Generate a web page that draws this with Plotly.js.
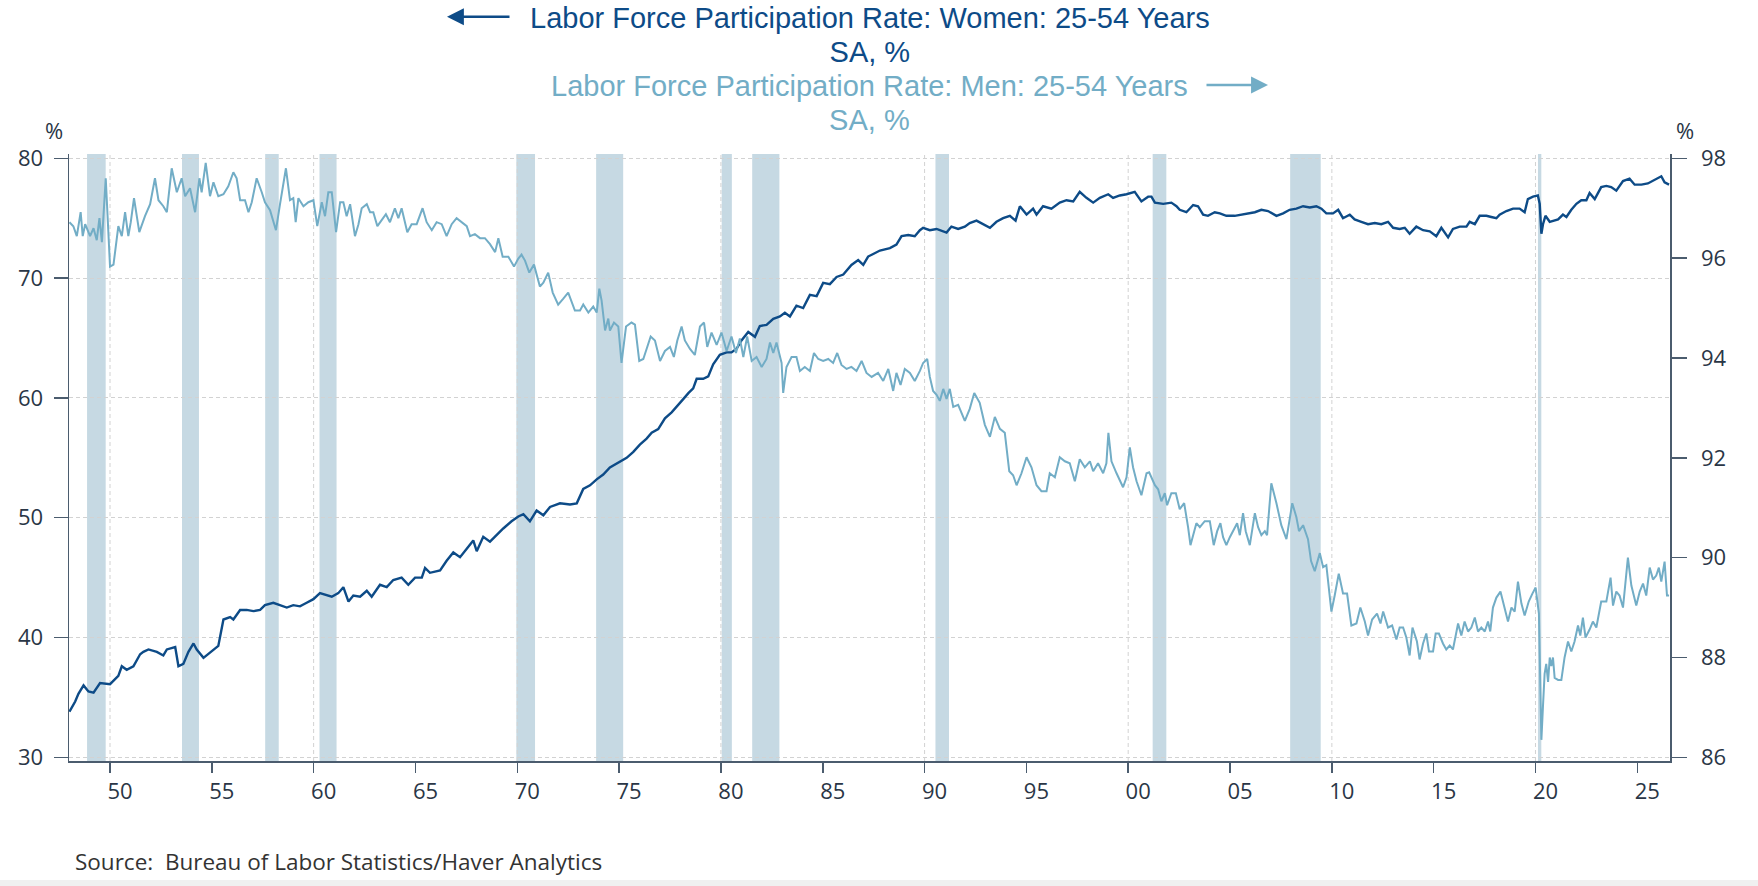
<!DOCTYPE html>
<html>
<head>
<meta charset="utf-8">
<script src="https://cdn.plot.ly/plotly-3.0.1.min.js"></script>
<style>
  html, body { margin: 0; padding: 0; background: #fff; }
  #chart { width: 1758px; height: 886px; }
</style>
</head>
<body>
<div id="chart"></div>
<script>
  "use strict";

  // women 25-54, left axis (decimal year, %)
  const womenT = [1948.01, 1948.29, 1948.45, 1948.70, 1948.94, 1949.19, 1949.51, 1950.00, 1950.41, 1950.58,
    1950.82, 1951.15, 1951.48, 1951.64, 1951.89, 1952.30, 1952.62, 1952.79, 1953.20, 1953.36,
    1953.60, 1953.85, 1954.10, 1954.26, 1954.59, 1955.08, 1955.32, 1955.57, 1955.90, 1956.06,
    1956.39, 1956.71, 1957.04, 1957.37, 1957.61, 1958.02, 1958.35, 1958.68, 1959.00, 1959.33,
    1959.66, 1959.99, 1960.31, 1960.64, 1960.89, 1961.21, 1961.46, 1961.71, 1961.95, 1962.28,
    1962.61, 1962.85, 1963.26, 1963.59, 1963.91, 1964.32, 1964.65, 1964.98, 1965.31, 1965.47,
    1965.71, 1966.21, 1966.53, 1966.86, 1967.19, 1967.52, 1967.84, 1968.01, 1968.33, 1968.66,
    1968.99, 1969.31, 1969.72, 1970.05, 1970.30, 1970.62, 1970.95, 1971.28, 1971.61, 1972.10,
    1972.59, 1972.92, 1973.24, 1973.57, 1973.90, 1974.22, 1974.55, 1975.04, 1975.37, 1975.70,
    1976.02, 1976.35, 1976.60, 1976.92, 1977.25, 1977.58, 1977.91, 1978.15, 1978.40, 1978.64,
    1978.81, 1979.13, 1979.38, 1979.62, 1979.95, 1980.28, 1980.52, 1980.77, 1981.01, 1981.34,
    1981.67, 1981.91, 1982.24, 1982.57, 1982.90, 1983.14, 1983.39, 1983.71, 1984.04, 1984.37,
    1984.70, 1985.02, 1985.35, 1985.68, 1986.01, 1986.41, 1986.74, 1986.99, 1987.23, 1987.56,
    1987.81, 1988.30, 1988.62, 1988.87, 1989.20, 1989.52, 1989.77, 1989.93, 1990.26, 1990.59,
    1991.08, 1991.32, 1991.65, 1991.98, 1992.22, 1992.55, 1992.88, 1993.21, 1993.53, 1993.86,
    1994.19, 1994.47, 1994.68, 1995.01, 1995.33, 1995.50, 1995.82, 1996.23, 1996.64, 1996.97,
    1997.30, 1997.62, 1997.95, 1998.28, 1998.61, 1999.02, 1999.26, 1999.59, 1999.92, 2000.32,
    2000.65, 2000.98, 2001.14, 2001.31, 2001.72, 2002.12, 2002.37, 2002.53, 2002.86, 2003.19,
    2003.43, 2003.68, 2003.92, 2004.25, 2004.50, 2004.82, 2005.23, 2005.56, 2005.89, 2006.22,
    2006.54, 2006.87, 2007.28, 2007.61, 2007.93, 2008.26, 2008.59, 2008.92, 2009.24, 2009.49,
    2009.73, 2010.06, 2010.31, 2010.55, 2010.88, 2011.12, 2011.45, 2011.78, 2012.11, 2012.43,
    2012.76, 2013.01, 2013.33, 2013.58, 2013.82, 2014.15, 2014.48, 2014.81, 2015.13, 2015.38,
    2015.71, 2015.95, 2016.28, 2016.61, 2016.77, 2017.02, 2017.26, 2017.59, 2017.83, 2018.08,
    2018.24, 2018.57, 2018.90, 2019.22, 2019.47, 2019.63, 2019.88, 2020.12, 2020.21, 2020.29,
    2020.37, 2020.49, 2020.70, 2020.86, 2021.11, 2021.35, 2021.52, 2021.76, 2022.01, 2022.25,
    2022.50, 2022.66, 2022.91, 2023.23, 2023.48, 2023.72, 2023.97, 2024.30, 2024.62, 2024.87,
    2025.20, 2025.52, 2025.85, 2026.18, 2026.34, 2026.56];
  const womenV = [33.8, 34.65, 35.3, 36.0, 35.5, 35.4, 36.2, 36.1, 36.8, 37.6,
    37.3, 37.6, 38.6, 38.8, 39.0, 38.8, 38.5, 39.0, 39.2, 37.6,
    37.8, 38.8, 39.5, 39.0, 38.3, 39.0, 39.3, 41.5, 41.7, 41.5,
    42.3, 42.3, 42.2, 42.3, 42.7, 42.9, 42.7, 42.5, 42.7, 42.6,
    42.9, 43.2, 43.7, 43.5, 43.4, 43.7, 44.2, 43.0, 43.5, 43.4,
    43.9, 43.4, 44.4, 44.2, 44.8, 45.0, 44.4, 45.0, 45.0, 45.8,
    45.4, 45.6, 46.4, 47.1, 46.7, 47.4, 48.1, 47.2, 48.4, 48.0,
    48.6, 49.1, 49.7, 50.1, 50.3, 49.7, 50.6, 50.2, 50.9, 51.2,
    51.1, 51.2, 52.4, 52.7, 53.2, 53.6, 54.2, 54.7, 55.0, 55.5,
    56.1, 56.6, 57.1, 57.4, 58.3, 58.8, 59.4, 59.9, 60.4, 60.8,
    61.6, 61.6, 61.8, 62.8, 63.6, 63.8, 63.8, 64.1, 64.8, 65.5,
    65.1, 66.0, 66.1, 66.6, 66.8, 67.1, 66.8, 67.7, 67.5, 68.6,
    68.5, 69.6, 69.5, 70.1, 70.3, 71.1, 71.5, 71.1, 71.8, 72.1,
    72.3, 72.5, 72.8, 73.5, 73.6, 73.5, 74.0, 74.2, 74.0, 74.1,
    73.8, 74.3, 74.1, 74.3, 74.6, 74.8, 74.5, 74.2, 74.7, 75.0,
    75.2, 74.8, 76.0, 75.3, 75.8, 75.3, 76.0, 75.8, 76.3, 76.5,
    76.4, 77.2, 76.7, 76.3, 76.7, 77.0, 76.7, 76.9, 77.0, 77.2,
    76.4, 76.8, 76.8, 76.3, 76.2, 76.3, 76.0, 75.7, 75.5, 76.1,
    76.0, 75.3, 75.2, 75.5, 75.4, 75.2, 75.2, 75.3, 75.4, 75.5,
    75.7, 75.6, 75.2, 75.4, 75.7, 75.8, 76.0, 75.9, 76.0, 75.8,
    75.4, 75.4, 75.7, 75.0, 75.3, 74.9, 74.7, 74.5, 74.6, 74.5,
    74.7, 74.2, 74.1, 74.2, 73.7, 74.3, 74.0, 73.9, 73.5, 74.2,
    73.4, 74.1, 74.3, 74.3, 74.7, 74.5, 75.2, 75.2, 75.1, 75.0,
    75.3, 75.6, 75.8, 75.8, 75.5, 76.6, 76.8, 76.9, 76.2, 73.7,
    74.5, 75.2, 74.7, 74.8, 74.9, 75.3, 75.1, 75.7, 76.2, 76.5,
    76.5, 77.1, 76.6, 77.6, 77.7, 77.6, 77.3, 78.1, 78.3, 77.8,
    77.8, 77.9, 78.2, 78.5, 78.0, 77.8];

  // men 25-54, right axis (decimal year, %)
  const menT = [1948.01, 1948.20, 1948.37, 1948.56, 1948.66, 1948.78, 1949.02, 1949.19, 1949.35, 1949.48,
    1949.60, 1949.79, 1950.00, 1950.17, 1950.41, 1950.58, 1950.74, 1950.90, 1951.02, 1951.18,
    1951.44, 1951.72, 1951.97, 1952.21, 1952.38, 1952.62, 1952.79, 1953.03, 1953.28, 1953.52,
    1953.69, 1953.93, 1954.18, 1954.39, 1954.50, 1954.70, 1954.91, 1955.08, 1955.32, 1955.57,
    1955.81, 1956.06, 1956.22, 1956.39, 1956.63, 1956.80, 1956.96, 1957.20, 1957.45, 1957.61,
    1957.86, 1958.15, 1958.35, 1958.64, 1958.84, 1959.00, 1959.12, 1959.25, 1959.50, 1959.74,
    1959.99, 1960.18, 1960.40, 1960.56, 1960.72, 1960.89, 1961.10, 1961.30, 1961.46, 1961.62,
    1961.79, 1962.03, 1962.20, 1962.36, 1962.61, 1962.77, 1962.93, 1963.13, 1963.34, 1963.55,
    1963.75, 1963.99, 1964.16, 1964.32, 1964.60, 1964.81, 1965.06, 1965.35, 1965.55, 1965.80,
    1966.04, 1966.29, 1966.53, 1966.78, 1967.02, 1967.27, 1967.52, 1967.68, 1967.92, 1968.17,
    1968.41, 1968.66, 1968.91, 1969.07, 1969.28, 1969.56, 1969.84, 1970.05, 1970.21, 1970.38,
    1970.59, 1970.82, 1971.11, 1971.28, 1971.52, 1971.74, 1972.01, 1972.26, 1972.50, 1972.83,
    1973.08, 1973.24, 1973.49, 1973.73, 1973.90, 1974.03, 1974.14, 1974.31, 1974.47, 1974.55,
    1974.75, 1974.96, 1975.12, 1975.34, 1975.61, 1975.78, 1975.99, 1976.19, 1976.35, 1976.55,
    1976.76, 1977.01, 1977.25, 1977.50, 1977.69, 1977.86, 1978.07, 1978.23, 1978.48, 1978.72,
    1978.97, 1979.17, 1979.33, 1979.54, 1979.79, 1980.03, 1980.28, 1980.52, 1980.74, 1980.93,
    1981.10, 1981.29, 1981.51, 1981.75, 1982.00, 1982.24, 1982.41, 1982.57, 1982.73, 1982.98,
    1983.06, 1983.22, 1983.47, 1983.71, 1983.88, 1984.12, 1984.37, 1984.57, 1984.78, 1985.02,
    1985.27, 1985.51, 1985.71, 1985.92, 1986.17, 1986.41, 1986.66, 1986.91, 1987.15, 1987.40,
    1987.72, 1987.97, 1988.22, 1988.46, 1988.62, 1988.82, 1989.03, 1989.28, 1989.52, 1989.77,
    1989.93, 1990.13, 1990.26, 1990.42, 1990.59, 1990.75, 1990.92, 1991.08, 1991.24, 1991.41,
    1991.65, 1991.82, 1991.98, 1992.22, 1992.44, 1992.71, 1992.96, 1993.21, 1993.45, 1993.70,
    1993.94, 1994.16, 1994.35, 1994.52, 1994.76, 1995.01, 1995.25, 1995.50, 1995.74, 1995.99,
    1996.15, 1996.40, 1996.64, 1996.89, 1997.13, 1997.38, 1997.62, 1997.87, 1998.12, 1998.28,
    1998.52, 1998.77, 1998.93, 1999.03, 1999.18, 1999.43, 1999.75, 1999.92, 2000.08, 2000.24,
    2000.41, 2000.65, 2000.90, 2001.03, 2001.31, 2001.47, 2001.63, 2001.80, 2001.91, 2002.12,
    2002.34, 2002.53, 2002.75, 2002.94, 2003.06, 2003.19, 2003.35, 2003.52, 2003.76, 2004.01,
    2004.20, 2004.37, 2004.53, 2004.66, 2004.82, 2004.99, 2005.15, 2005.35, 2005.48, 2005.64,
    2005.77, 2005.97, 2006.22, 2006.38, 2006.54, 2006.71, 2006.82, 2007.03, 2007.28, 2007.52,
    2007.77, 2008.06, 2008.26, 2008.39, 2008.59, 2008.83, 2008.98, 2009.16, 2009.41, 2009.57,
    2009.73, 2009.98, 2010.14, 2010.34, 2010.55, 2010.75, 2010.96, 2011.21, 2011.40, 2011.62,
    2011.78, 2011.98, 2012.22, 2012.39, 2012.52, 2012.76, 2012.96, 2013.17, 2013.33, 2013.50,
    2013.66, 2013.82, 2013.96, 2014.18, 2014.31, 2014.48, 2014.64, 2014.77, 2014.97, 2015.10,
    2015.26, 2015.46, 2015.62, 2015.79, 2015.95, 2016.20, 2016.36, 2016.52, 2016.69, 2016.85,
    2017.02, 2017.18, 2017.34, 2017.51, 2017.67, 2017.78, 2017.91, 2018.08, 2018.28, 2018.44,
    2018.65, 2018.82, 2018.98, 2019.14, 2019.31, 2019.47, 2019.67, 2019.85, 2020.01, 2020.17,
    2020.29, 2020.37, 2020.45, 2020.53, 2020.62, 2020.70, 2020.78, 2020.86, 2020.94, 2021.11,
    2021.27, 2021.43, 2021.60, 2021.76, 2021.92, 2022.09, 2022.20, 2022.33, 2022.46, 2022.66,
    2022.82, 2022.99, 2023.23, 2023.48, 2023.69, 2023.81, 2023.97, 2024.13, 2024.30, 2024.54,
    2024.71, 2024.95, 2025.12, 2025.28, 2025.44, 2025.61, 2025.77, 2025.93, 2026.06, 2026.18,
    2026.34, 2026.46, 2026.56];
  const menV = [96.72, 96.64, 96.44, 96.92, 96.44, 96.68, 96.44, 96.6, 96.36, 96.8,
    96.32, 97.6, 95.83, 95.87, 96.64, 96.44, 96.92, 96.44, 96.72, 97.2,
    96.52, 96.84, 97.08, 97.6, 97.16, 97.04, 96.92, 97.8, 97.32, 97.6,
    97.24, 97.4, 96.92, 97.6, 97.32, 97.91, 97.24, 97.52, 97.24, 97.28,
    97.44, 97.72, 97.6, 97.16, 97.16, 96.92, 97.12, 97.6, 97.32, 97.12,
    96.96, 96.56, 97.08, 97.8, 97.16, 97.2, 96.72, 97.2, 97.04, 97.12,
    97.16, 96.64, 97.12, 96.84, 97.32, 97.32, 96.52, 97.12, 97.12, 96.84,
    97.08, 96.44, 96.68, 97.0, 97.08, 96.92, 96.92, 96.64, 96.76, 96.88,
    96.72, 97.0, 96.8, 97.0, 96.52, 96.68, 96.68, 97.0, 96.72, 96.56,
    96.72, 96.68, 96.44, 96.68, 96.8, 96.72, 96.64, 96.44, 96.48, 96.4,
    96.4, 96.28, 96.12, 96.4, 96.03, 96.03, 95.83, 95.99, 96.07, 95.95,
    95.71, 95.87, 95.43, 95.51, 95.71, 95.31, 95.07, 95.19, 95.31, 94.95,
    94.95, 95.07, 94.91, 95.03, 94.91, 95.39, 95.15, 94.55, 94.79, 94.55,
    94.71, 94.63, 93.9, 94.63, 94.71, 94.67, 93.94, 93.98, 94.18, 94.43,
    94.35, 93.94, 94.14, 94.22, 94.02, 94.35, 94.63, 94.35, 94.18, 94.06,
    94.63, 94.71, 94.22, 94.51, 94.26, 94.51, 94.14, 94.43, 94.1, 94.39,
    94.02, 94.43, 93.94, 94.02, 93.82, 93.98, 94.31, 94.1, 94.31, 93.9,
    93.3, 93.82, 94.02, 94.02, 93.74, 93.82, 93.74, 94.1, 93.98, 93.94,
    93.98, 93.9, 94.1, 93.86, 93.78, 93.82, 93.74, 93.94, 93.7, 93.62,
    93.7, 93.54, 93.78, 93.34, 93.7, 93.46, 93.78, 93.7, 93.54, 93.74,
    93.9, 93.98, 93.62, 93.34, 93.26, 93.14, 93.38, 93.18, 93.38, 93.02,
    93.06, 92.9, 92.74, 92.98, 93.3, 93.1, 92.66, 92.42, 92.82, 92.58,
    92.5, 91.73, 91.65, 91.45, 91.69, 92.01, 91.81, 91.45, 91.33, 91.33,
    91.69, 91.61, 92.01, 91.93, 91.89, 91.53, 91.97, 91.81, 91.93, 91.73,
    91.89, 91.69, 91.89, 92.5, 91.93, 91.69, 91.41, 91.61, 92.21, 91.81,
    91.53, 91.25, 91.69, 91.71, 91.45, 91.37, 91.13, 91.29, 91.05, 91.29,
    91.29, 90.97, 91.09, 90.61, 90.25, 90.45, 90.69, 90.61, 90.73, 90.73,
    90.25, 90.53, 90.69, 90.41, 90.25, 90.41, 90.53, 90.69, 90.45, 90.89,
    90.53, 90.25, 90.89, 90.61, 90.45, 90.53, 90.45, 91.49, 91.09, 90.65,
    90.37, 91.09, 90.81, 90.53, 90.65, 90.37, 89.93, 89.73, 90.09, 89.81,
    89.85, 88.92, 89.24, 89.68, 89.28, 89.28, 88.64, 88.68, 89.0, 88.72,
    88.44, 88.76, 88.88, 88.68, 88.92, 88.6, 88.64, 88.36, 88.6, 88.6,
    88.4, 88.04, 88.6, 88.32, 87.96, 88.28, 88.48, 88.12, 88.12, 88.48,
    88.48, 88.28, 88.16, 88.24, 88.16, 88.68, 88.44, 88.72, 88.52, 88.6,
    88.8, 88.52, 88.6, 88.52, 88.72, 88.52, 89.0, 89.2, 89.32, 89.04,
    88.72, 89.0, 88.92, 89.52, 89.08, 88.84, 89.12, 89.28, 89.4, 88.88,
    86.35, 87.03, 87.67, 87.87, 87.51, 88.0, 87.83, 88.0, 87.59, 87.55,
    87.55, 88.0, 88.32, 88.12, 88.32, 88.64, 88.44, 88.8, 88.4, 88.56,
    88.72, 88.6, 89.12, 89.12, 89.6, 89.04, 89.32, 89.24, 89.0, 90.0,
    89.44, 89.04, 89.32, 89.48, 89.24, 89.8, 89.56, 89.64, 89.8, 89.52,
    89.92, 89.24, 89.24];

  // NBER recessions, peak to trough
  const recStart = ['1948-11-15', '1953-07-15', '1957-08-15', '1960-04-15', '1969-12-15', '1973-11-15',
    '1980-01-15', '1981-07-15', '1990-07-15', '2001-03-15', '2007-12-15', '2020-02-15'];
  const recEnd = ['1949-10-15', '1954-05-15', '1958-04-15', '1961-02-15', '1970-11-15', '1975-03-15',
    '1980-07-15', '1982-11-15', '1991-03-15', '2001-11-15', '2009-06-15', '2020-04-15'];

  const gridYears = [1950, 1960, 1970, 1980, 1990, 2000, 2010, 2020];

  const womenTitle = 'Labor Force Participation Rate: Women: 25-54 Years';
  const menTitle = 'Labor Force Participation Rate: Men: 25-54 Years';
  const unitText = 'SA, %';
  const sourceText = 'Source:\u00a0\u00a0Bureau of Labor Statistics/Haver Analytics';

  const WOMEN = '#0d4b87', MEN = '#72adc6', BAND = '#c6d9e3';
  const AXIS = '#4b5c6e', TEXT = '#2a3646', GRID = '#d2d2d2';
  const FONT = '"Open Sans", "Noto Sans", sans-serif';
  const TITLE_FONT = '"Liberation Sans", Arial, sans-serif';

  // decimal year -> ISO date string
  function toDate(t) {
    let y = Math.floor(t);
    let start = Date.UTC(y, 0, 1), end = Date.UTC(y + 1, 0, 1);
    return new Date(start + (t - y) * (end - start)).toISOString().slice(0, 10);
  }

  let traces = [
    {
      x: womenT.map(toDate), y: womenV, type: 'scatter', mode: 'lines',
      line: {color: WOMEN, width: 2.4}, yaxis: 'y', hoverinfo: 'skip',
    },
    {
      x: menT.map(toDate), y: menV, type: 'scatter', mode: 'lines',
      line: {color: MEN, width: 2}, yaxis: 'y2', hoverinfo: 'skip',
    },
  ];

  let shapes = recStart.map((s, i) => ({
    type: 'rect', xref: 'x', yref: 'paper', x0: s, x1: recEnd[i], y0: 0, y1: 1,
    fillcolor: BAND, line: {width: 0}, layer: 'between',
  }));
  // decade grid lines sit above the bands
  gridYears.forEach(yr => shapes.push({
    type: 'line', xref: 'x', yref: 'paper', x0: yr + '-01-01', x1: yr + '-01-01', y0: 0, y1: 1,
    line: {color: GRID, width: 1, dash: '4px,3px'}, layer: 'between',
  }));
  // thin grey strip at the foot of the page
  shapes.push({
    type: 'rect', xref: 'paper', yref: 'paper', x0: -0.05, x1: 1.06, y0: -0.207, y1: -0.196,
    fillcolor: '#f0f0f0', line: {width: 0},
  });

  // two-line title blocks: 34px line pitch (26.2 * 1.3), 29px glyphs
  let titleBlock = (title) => '<span style="font-size:29px">' + title + '</span><br>' +
    '<span style="font-size:29px">' + unitText + '</span>';
  let annotations = [
    {text: titleBlock(womenTitle), x: 0.5, y: 1.1960, font: {family: TITLE_FONT, size: 26.2, color: WOMEN}},
    {text: titleBlock(menTitle), x: 0.5, y: 1.0840, font: {family: TITLE_FONT, size: 26.2, color: MEN}},
    {text: sourceText, x: 0.0025, y: -0.166, xanchor: 'left', font: {family: FONT, size: 22.5, color: '#333'}},
    {text: '%', x: -0.0094, y: 1.0395, font: {family: FONT, size: 22, color: TEXT}},
    {text: '%', x: 1.0093, y: 1.0395, font: {family: FONT, size: 22, color: TEXT}},
  ].map(a => Object.assign({xref: 'paper', yref: 'paper', showarrow: false, xanchor: 'center', yanchor: 'middle'}, a));

  // legend arrows next to the titles
  annotations.push(
    {xref: 'paper', yref: 'paper', x: 0.2361, y: 1.2262, ax: 64, ay: 0, text: '', showarrow: true,
      arrowhead: 2, arrowsize: 1.3, arrowwidth: 2.6, arrowcolor: WOMEN, standoff: 0},
    {xref: 'paper', yref: 'paper', x: 0.7489, y: 1.1137, ax: -63, ay: 0, text: '', showarrow: true,
      arrowhead: 2, arrowsize: 1.3, arrowwidth: 2.6, arrowcolor: MEN, standoff: 0}
  );

  let tickFont = {family: FONT, size: 22, color: TEXT};
  let layout = {
    width: 1758, height: 886,
    margin: {l: 69, r: 88, t: 154, b: 125, pad: 0},
    paper_bgcolor: '#fff', plot_bgcolor: '#fff',
    showlegend: false,
    xaxis: {
      type: 'date', range: ['1947-12-27', '2026-08-10'],
      tick0: '1950-01-01', dtick: 'M60', tickformat: '%y',
      ticks: 'outside', ticklen: 10, tickwidth: 1.5, tickcolor: AXIS,
      ticklabelshift: 10, ticklabelstandoff: 0,
      showline: true, linecolor: AXIS, linewidth: 2,
      showgrid: false, zeroline: false, tickfont: tickFont, fixedrange: true,
    },
    yaxis: {
      range: [29.69, 80.36], tick0: 30, dtick: 10,
      ticks: 'outside', ticklen: 14, tickwidth: 1.5, tickcolor: AXIS, ticklabelstandoff: 6,
      showline: true, linecolor: AXIS, linewidth: 1.5,
      showgrid: true, gridcolor: GRID, griddash: '4px,3px', gridwidth: 1,
      zeroline: false, tickfont: tickFont, fixedrange: true,
    },
    yaxis2: {
      overlaying: 'y', side: 'right', range: [85.926, 98.086], tick0: 86, dtick: 2,
      ticks: 'outside', ticklen: 15, tickwidth: 1.5, tickcolor: AXIS, ticklabelstandoff: 10,
      showline: true, linecolor: AXIS, linewidth: 1.5,
      showgrid: false, zeroline: false, tickfont: tickFont, fixedrange: true,
    },
    shapes: shapes,
    annotations: annotations,
  };

  Plotly.newPlot('chart', traces, layout, {displayModeBar: false, staticPlot: true});
</script>
</body>
</html>
